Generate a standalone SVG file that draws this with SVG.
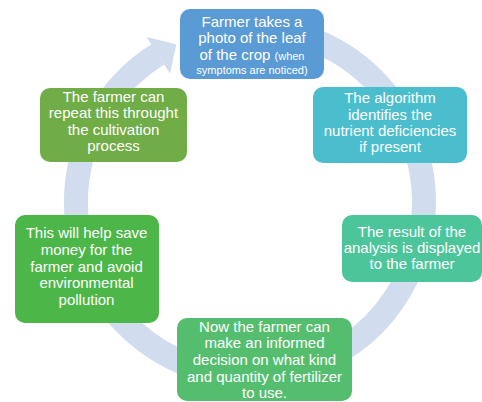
<svg xmlns="http://www.w3.org/2000/svg" width="482" height="402" viewBox="0 0 482 402">
<style>
.ring{fill:none;stroke:#D1DCEF;stroke-width:24}
.head{fill:#D1DCEF}
.box{stroke:none}
.t{font-family:"Liberation Sans",Arial,sans-serif;font-size:15px;fill:#FFFFFF;text-anchor:middle}
.s{font-size:11px}
</style>
<rect width="482" height="402" fill="#FFFFFF"/>
<g id="connectors">
<path class="ring" d="M 309.5 38.5 A 174 174 0 1 1 157.8 54.4"/>
<polygon class="head" points="146.5,37 176.4,44.3 170,73.5"/>
</g>
<g id="n1">
<rect class="box" x="180" y="9" width="144" height="70" rx="10" fill="#5B9BD5"/>
<text class="t" x="252" y="26.5">Farmer takes a</text>
<text class="t" x="252" y="43">photo of the leaf</text>
<text class="t" x="252" y="59.5">of the crop <tspan class="s">(when</tspan></text>
<text class="t s" x="252" y="73.5">symptoms are noticed)</text>
</g>
<g id="n2">
<rect class="box" x="313" y="87" width="154" height="76" rx="10" fill="#4BBECD"/>
<text class="t" x="390" y="103.3">The algorithm</text>
<text class="t" x="390" y="119.5">identifies the</text>
<text class="t" x="390" y="135.8">nutrient deficiencies</text>
<text class="t" x="390" y="152">if present</text>
</g>
<g id="n3">
<rect class="box" x="342" y="215" width="140" height="67" rx="10" fill="#4DC59B"/>
<text class="t" x="412" y="237.3">The result of the</text>
<text class="t" x="412" y="253.3">analysis is displayed</text>
<text class="t" x="412" y="269">to the farmer</text>
</g>
<g id="n4">
<rect class="box" x="177" y="318" width="175" height="83" rx="10" fill="#55BE6E"/>
<text class="t" x="264.5" y="331.7">Now the farmer can</text>
<text class="t" x="264.5" y="348.3">make an informed</text>
<text class="t" x="264.5" y="365">decision on what kind</text>
<text class="t" x="264.5" y="381.7">and quantity of fertilizer</text>
<text class="t" x="264.5" y="398.3">to use.</text>
</g>
<g id="n5">
<rect class="box" x="15" y="215" width="144" height="108" rx="10" fill="#4CB648"/>
<text class="t" x="86.5" y="238.3">This will help save</text>
<text class="t" x="86.5" y="255">money for the</text>
<text class="t" x="86.5" y="271.7">farmer and avoid</text>
<text class="t" x="86.5" y="288.3">environmental</text>
<text class="t" x="86.5" y="305">pollution</text>
</g>
<g id="n6">
<rect class="box" x="40" y="88" width="147" height="74" rx="10" fill="#70AD47"/>
<text class="t" x="113.5" y="101.7">The farmer can</text>
<text class="t" x="113.5" y="118.3">repeat this throught</text>
<text class="t" x="113.5" y="134.5">the cultivation</text>
<text class="t" x="113.5" y="150.7">process</text>
</g>
</svg>
